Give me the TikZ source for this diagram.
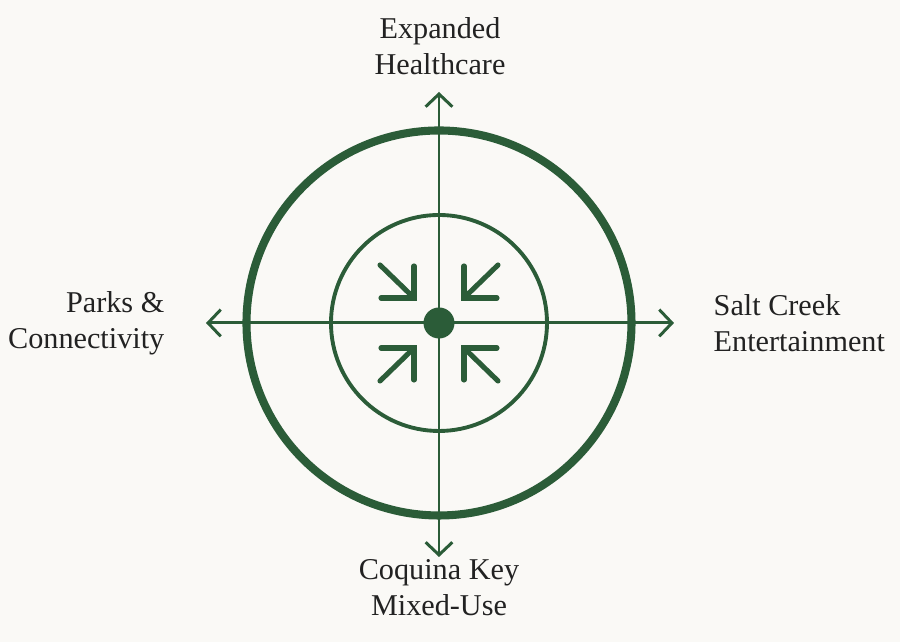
\documentclass[tikz,border=0pt]{standalone}
\usepackage{fontspec}
\setmainfont{Liberation Serif}
\usetikzlibrary{arrows.meta}
\definecolor{pine}{RGB}{43,92,56}
\definecolor{ink}{RGB}{34,34,34}
\definecolor{paper}{RGB}{250,249,246}
\begin{document}
\begin{tikzpicture}[font=\fontsize{8.6}{10.2}\selectfont,
	label/.style={text=ink,inner sep=0pt},
	axis/.style={pine,line width=0.85pt,-{Straight Barb[length=3.6pt,width=7.6pt]}},
	sink/.style={pine,line width=1.45pt,line cap=round}]
	\fill[paper] (-4.39,-3.19) rectangle (4.61,3.23);
	\useasboundingbox (-4.39,-3.19) rectangle (4.61,3.23);
	\coordinate (o) at (0,0);
	\coordinate (n) at (0,2.31); \coordinate (s) at (0,-2.34);
	\coordinate (w) at (-2.33,0); \coordinate (e) at (2.35,0);
	
	\draw[axis] (o) -- (n); \draw[axis] (o) -- (s);
	\draw[axis] (o) -- (w); \draw[axis] (o) -- (e);
	\draw[pine,line width=2.3pt] (o) circle(1.925);
	\draw[pine,line width=1.1pt] (o) circle(1.08);
	\fill[pine] (o) circle(0.155);
	\foreach \sx/\sy in {-1/1,1/1,-1/-1,1/-1}{
		\draw[sink] (\sx*0.59,\sy*0.58) -- (\sx*0.27,\sy*0.27);
		\draw[sink,line join=miter] (\sx*0.58,\sy*0.25) -- (\sx*0.25,\sy*0.25) -- (\sx*0.25,\sy*0.57);
	}
	
	\node[label,align=center] (health) at (0.01,2.765) {Expanded\\Healthcare};
	\node[label,align=right,anchor=east] (parks) at (-2.74,0) {Parks \&\\Connectivity};
	\node[label,align=left,anchor=west] (salt) at (2.74,0) {Salt Creek\\Entertainment};
	\node[label,align=center] (coquina) at (0,-2.65) {Coquina Key\\Mixed-Use};
\end{tikzpicture}
\end{document}
